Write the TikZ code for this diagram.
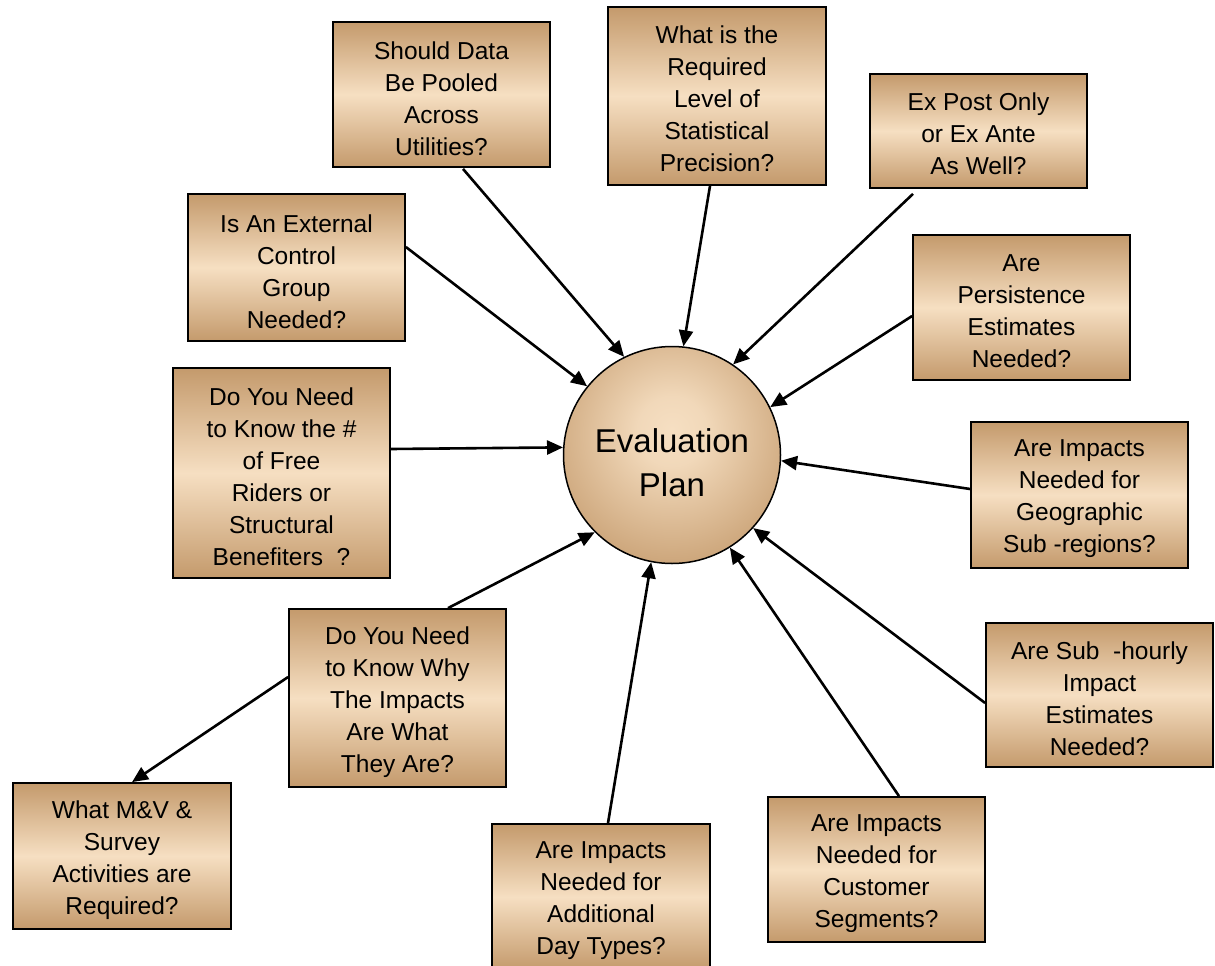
\documentclass[tikz,border=0pt]{standalone}
\usepackage{fontspec}
\setmainfont{Liberation Sans}
\usetikzlibrary{arrows.meta,calc}
\definecolor{tanD}{RGB}{196,154,108}
\definecolor{tanL}{RGB}{246,223,194}
\pgfdeclareradialshading{ball}{\pgfpoint{0bp}{6bp}}{color(0bp)=(tanL); color(8bp)=(tanL!90!tanD); color(30bp)=(tanD!85!tanL); color(50bp)=(tanD!92!black); color(100bp)=(tanD)}
\begin{document}
\begin{tikzpicture}[x=1pt,y=-1pt,
  box/.style={draw=black, line width=1.8pt, top color=tanD, bottom color=tanD, middle color=tanL,
    minimum width=217pt, inner sep=0pt},
  txt/.style={align=center, inner sep=0pt, font=\fontsize{24.5}{32}\selectfont},
  conn/.style={line width=2.6pt, -{Triangle[length=16pt,width=14pt]}}]
\useasboundingbox (0,0) rectangle (1215,966);
\clip (0,0) rectangle (1215,966);

\node[circle, draw=black, line width=1.5pt, minimum size=217pt, inner sep=0pt, shading=ball] (plan) at (672,455) {};
\node[align=center, inner sep=0pt, font=\fontsize{33}{44}\selectfont] (tplan) at ($(plan)+(0,8)$) {Evaluation\\Plan};

\node[box, minimum height=145pt] (b1) at (441.5,94.5) {};
\node[box, minimum width=218pt, minimum height=178pt] (b2) at (717,96) {};
\node[box, minimum height=114pt] (b3) at (978.5,131) {};
\node[box, minimum height=147pt] (b4) at (296.5,267.5) {};
\node[box, minimum height=145pt] (b5) at (1021.5,307.5) {};
\node[box, minimum height=210pt] (b6) at (281.5,473) {};
\node[box, minimum height=146pt] (b7) at (1079.5,495) {};
\node[box, minimum height=178pt] (b8) at (397.5,698) {};
\node[box, minimum width=227pt, minimum height=144pt] (b9) at (1099.5,695) {};
\node[box, minimum width=218pt, minimum height=146pt] (b10) at (122,856) {};
\node[box, minimum width=218pt, minimum height=146pt] (b11) at (601,897) {};
\node[box, minimum height=145pt] (b12) at (876.5,869.5) {};

\node[txt] (t1) at ($(b1)+(0,4)$) {Should Data\\Be Pooled\\Across\\Utilities?};
\node[txt] (t2) at ($(b2)+(0,3)$) {What is the\\Required\\Level of\\Statistical\\Precision?};
\node[txt] (t3) at ($(b3)+(0,3)$) {Ex Post Only\\or Ex Ante\\As Well?};
\node[txt] (t4) at ($(b4)+(0,4)$) {Is An External\\Control\\Group\\Needed?};
\node[txt] (t5) at ($(b5)+(0,4)$) {Are\\Persistence\\Estimates\\Needed?};
\node[txt] (t6) at ($(b6)+(0,4)$) {Do You Need\\to Know the \#\\of Free\\Riders or\\Structural\\Benefiters \ ?};
\node[txt] (t7) at ($(b7)+(0,4)$) {Are Impacts\\Needed for\\Geographic\\Sub -regions?};
\node[txt] (t8) at ($(b8)+(0,4)$) {Do You Need\\to Know Why\\The Impacts\\Are What\\They Are?};
\node[txt] (t9) at ($(b9)+(0,4)$) {Are Sub \ -hourly\\Impact\\Estimates\\Needed?};
\node[txt] (t10) at ($(b10)+(0,4)$) {What M\&V \&\\Survey\\Activities are\\Required?};
\node[txt] (t11) at ($(b11)+(0,4)$) {Are Impacts\\Needed for\\Additional\\Day Types?};
\node[txt] (t12) at ($(b12)+(0,4)$) {Are Impacts\\Needed for\\Customer\\Segments?};

\draw[conn] ($(b1.south)+(21.5,1)$) -- (plan.116.8);
\draw[conn] ($(b2.south)+(-7,0)$) -- (plan.84.4);
\draw[conn] ($(b3.south)+(-65.5,5)$) -- (plan.56.4);
\draw[conn] ($(b4.east)+(0,-20.5)$) -- (plan.141.4);
\draw[conn] ($(b5.west)+(0,8.5)$) -- (plan.26.1);
\draw[conn] ($(b6.east)+(0,-24)$) -- (plan.176.8);
\draw[conn] ($(b7.west)+(0,-6)$) -- (plan.-3.6);
\draw[conn] ($(b9.west)+(0,8)$) -- (plan.-42.5);
\draw[conn] ($(b12.north)+(22.5,0)$) -- (plan.-58.5);
\draw[conn] ($(b11.north)+(7,0)$) -- (plan.-101.2);
\draw[conn] ($(b8.north)+(50.5,0)$) -- (plan.-135.7);
\draw[conn] ($(b8.west)+(0,-21)$) -- ($(b10.north)+(10,0)$);
\end{tikzpicture}
\end{document}
